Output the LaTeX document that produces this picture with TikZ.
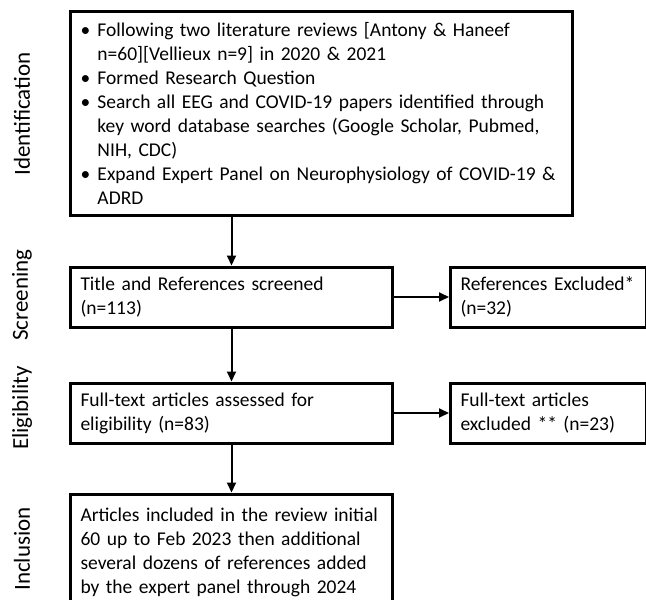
\documentclass[tikz,border=0pt]{standalone}
\usepackage{fontspec}
\setmainfont{Carlito}
\usetikzlibrary{arrows.meta}

\newcommand{\bpoint}{\makebox[17pt][l]{\textbullet}}
\newcommand{\bcont}{\hspace*{17pt}}

\begin{document}
\begin{tikzpicture}[x=1pt,y=-1pt,font=\fontsize{19.5}{24}\selectfont]
                \clip (0,0) rectangle (646,600);
                \begin{scope}[every node/.style={draw=black,line width=3pt,anchor=west,align=left,inner xsep=10pt,inner ysep=0pt}]
                    \node (I) [text width=482pt,minimum height=204pt] at (69,113)
                        {\bpoint\mbox{Following two literature reviews [Antony \& Haneef}\\
                         \bcont\mbox{n=60][Vellieux n=9] in 2020 \& 2021}\\
                         \bpoint\mbox{Formed Research Question}\\
                         \bpoint\mbox{Search all EEG and COVID-19 papers identified through}\\
                         \bcont\mbox{key word database searches (Google Scholar, Pubmed,}\\
                         \bcont\mbox{NIH, CDC)}\\
                         \bpoint\mbox{Expand Expert Panel on Neurophysiology of COVID-19 \&}\\
                         \bcont\mbox{ADRD}};
                    \node (S) [text width=302pt,minimum height=60pt] at (69,297)
                        {\mbox{Title and References screened}\\\mbox{(n=113)}};
                    \node (S1) [text width=176pt,minimum height=60pt] at (449,297)
                        {\mbox{References Excluded*}\\\mbox{(n=32)}};
                    \node (E) [text width=302pt,minimum height=60pt] at (69,413)
                        {\mbox{Full-text articles assessed for}\\\mbox{eligibility (n=83)}};
                    \node (E1) [text width=176pt,minimum height=60pt] at (449,413)
                        {\mbox{Full-text articles}\\\mbox{excluded ** (n=23)}};
                    \node (N) [text width=302pt,minimum height=116pt] at (69,552)
                        {\mbox{Articles included in the review initial}\\
                         \mbox{60 up to Feb 2023 then additional}\\
                         \mbox{several dozens of references added}\\
                         \mbox{by the expert panel through 2024}};
                \end{scope}
                \begin{scope}[every node/.style={rotate=90,font=\fontsize{23}{27}\selectfont}]
                    \node (LI) at (22,114) {Identification};
                    \node (LS) at (22,295) {Screening};
                    \node (LE) at (22,408) {Eligibility};
                    \node (LN) at (22,549) {Inclusion};
                \end{scope}
                \begin{scope}[every edge/.style={draw=black,line width=2pt,-{Triangle[width=9pt,length=10pt]}}]
                    \draw (I.south -| S.north) edge (S.north);
                    \draw (S.south) edge (E.north);
                    \draw (E.south) edge (N.north);
                    \draw (S.east) edge (S1.west);
                    \draw (E.east) edge (E1.west);
                \end{scope}
            \end{tikzpicture}
\end{document}
